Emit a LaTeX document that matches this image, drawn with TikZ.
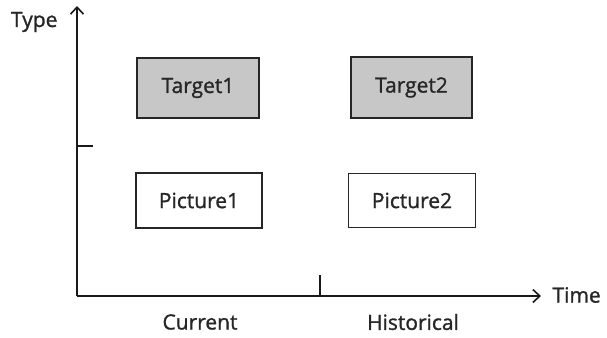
\documentclass[tikz,border=0pt]{standalone}
\usepackage{fontspec}
\setmainfont{Open Sans}[FakeBold=1.2,BoldFont={Open Sans},BoldFeatures={FakeBold=1.2}]
\usetikzlibrary{arrows.meta}
\begin{document}
\begin{tikzpicture}[x=1pt,y=-1pt,
  box/.style={draw=black!85,line width=1.8pt,inner sep=0pt,font=\fontsize{21}{24}\selectfont\bfseries,text=black!85},
  grey/.style={box,fill=black!22},
  axis/.style={line width=1.6pt,draw=black!90,-{Straight Barb[length=7pt,width=13pt,line width=1.6pt]}},
  lab/.style={font=\fontsize{21}{24}\selectfont\bfseries,text=black!85}]
\useasboundingbox (0,0) rectangle (607,337);
\coordinate (o) at (77,296);
\coordinate (ytip) at (77,6);
\coordinate (xtip) at (541,296);
\draw[axis] (o) -- (ytip);
\draw[axis] (o) -- (xtip);
\coordinate (yt1) at (77,146);
\coordinate (yt2) at (93,146);
\coordinate (xt1) at (320,296);
\coordinate (xt2) at (320,275);
\draw[line width=1.6pt,black!90] (yt1) -- (yt2);
\draw[line width=1.6pt,black!90] (xt1) -- (xt2);
\node[grey,minimum width=122pt,minimum height=60pt] (t1) at (198,88) {Target1};
\node[grey,minimum width=121pt,minimum height=61pt] (t2) at (411.5,87.5) {Target2};
\node[box,minimum width=126pt,minimum height=55pt] (p1) at (199,200.5) {Picture1};
\node[box,minimum width=127pt,minimum height=54pt] (p2) at (412,200.5) {Picture2};
\node[lab,anchor=east] (type) at (61,22) {Type};
\node[lab,anchor=west] (time) at (549,295) {Time};
\node[lab] (cur) at (200,322) {Current};
\node[lab] (hist) at (413,322) {Historical};
\end{tikzpicture}
\end{document}
